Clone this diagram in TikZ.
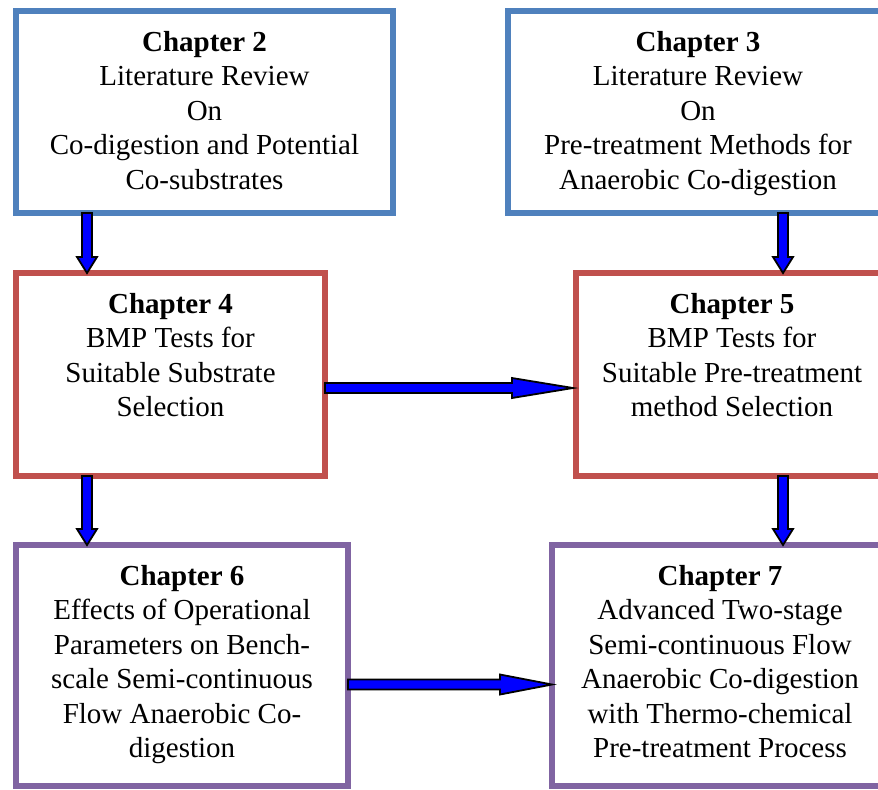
\documentclass[tikz,border=0pt]{standalone}
\usepackage{fontspec}
\setmainfont{Liberation Serif}
\usepackage{tikz}
\usetikzlibrary{calc,positioning}

\definecolor{chblue}{RGB}{79,129,189}
\definecolor{chred}{RGB}{192,80,77}
\definecolor{chpurple}{RGB}{128,100,162}

\tikzset{
	chapbox/.style={draw=#1,rectangle,line width=3.3pt,inner sep=0pt,outer sep=0pt,
		font=\fontsize{14.5pt}{17.25pt}\selectfont},
	blockarrow/.style={draw=black,fill=blue,line width=0.9pt,line join=miter}
}

% text of a chapter box: width, height, lines
\newcommand{\boxtext}[3]{\parbox[c][#2][t]{#1}{\centering\rule{0pt}{20pt}#3}}
% block arrows: start, tip (and head length)
\newcommand{\downblock}[2]{\draw[blockarrow] ($(#1)+(-5,0)$) -- ($(#2)+(-5,-16)$) -- ($(#2)+(-10,-16)$) -- (#2) -- ($(#2)+(10,-16)$) -- ($(#2)+(5,-16)$) -- ($(#1)+(5,0)$) -- cycle;}
\newcommand{\rightblock}[3]{\draw[blockarrow] ($(#1)+(0,-5)$) -- ($(#2)+(-#3,-5)$) -- ($(#2)+(-#3,-10)$) -- (#2) -- ($(#2)+(-#3,10)$) -- ($(#2)+(-#3,5)$) -- ($(#1)+(0,5)$) -- cycle;}

\begin{document}
\begin{tikzpicture}[x=0.5pt,y=-0.5pt]
	\useasboundingbox (0,0) rectangle (878,789);
	\begin{scope}
		\node(ch2) [chapbox=chblue] at (204.5,112) {\boxtext{188.5pt}{101pt}{\textbf{Chapter 2}\\Literature Review\\On\\Co-digestion and Potential\\Co-substrates}};
		\node(ch3) [chapbox=chblue,right=57.5pt of ch2] {\boxtext{190pt}{101pt}{\textbf{Chapter 3}\\Literature Review\\On\\Pre-treatment Methods for\\Anaerobic Co-digestion}};
		\node(ch4) [chapbox=chred,below=30pt of ch2.south west,anchor=north west] {\boxtext{154.5pt}{101.5pt}{\textbf{Chapter 4}\\BMP Tests for\\Suitable Substrate\\Selection}};
		\node(ch5) [chapbox=chred,right=125.5pt of ch4] {\boxtext{156pt}{101.5pt}{\textbf{Chapter 5}\\BMP Tests for\\Suitable Pre-treatment\\method Selection}};
		\node(ch6) [chapbox=chpurple,below=34.5pt of ch4.south west,anchor=north west] {\boxtext{166pt}{120.5pt}{\textbf{Chapter 6}\\Effects of Operational\\Parameters on Bench-\\scale Semi-continuous\\Flow Anaerobic Co-\\digestion}};
		\node(ch7) [chapbox=chpurple,right=102pt of ch6] {\boxtext{168pt}{120.5pt}{\textbf{Chapter 7}\\Advanced Two-stage\\Semi-continuous Flow\\Anaerobic Co-digestion\\with Thermo-chemical\\Pre-treatment Process}};
	\end{scope}
	% arrows between chapters
	\coordinate (a1) at ($(ch2.south west)+(71,0)$);
	\coordinate (a2) at ($(ch3.south west)+(275,0)$);
	\coordinate (a3) at ($(ch4.south west)+(71,0)$);
	\coordinate (a4) at ($(ch5.south west)+(207,0)$);
	\coordinate (a5) at ($(ch4.north east)+(0,115)$);
	\coordinate (a6) at ($(ch6.north east)+(0,139.5)$);
	\coordinate (b1) at (a1 |- ch4.north);
	\coordinate (b2) at (a2 |- ch5.north);
	\coordinate (b3) at (a3 |- ch6.north);
	\coordinate (b4) at (a4 |- ch7.north);
	\coordinate (b5) at ($(a5 -| ch5.west)+(-3,0)$);
	\coordinate (b6) at (a6 -| ch7.west);
	\downblock{a1}{b1}
	\downblock{a2}{b2}
	\downblock{a3}{b3}
	\downblock{a4}{b4}
	\rightblock{a5}{b5}{61}
	\rightblock{a6}{b6}{52}
\end{tikzpicture}
\end{document}
